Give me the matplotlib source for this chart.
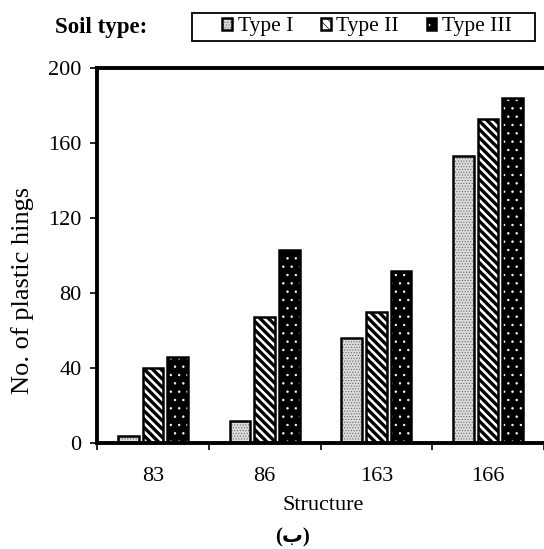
import matplotlib
matplotlib.use("Agg")
import matplotlib.pyplot as plt
import matplotlib.patches as mpatches
import numpy as np

structures = ["83", "86", "163", "166"]
series_names = ["Type I", "Type II", "Type III"]
type1 = [4, 12, 56, 153]
type2 = [40, 67, 70, 173]
type3 = [46, 103, 92, 184]
yticks = [0, 40, 80, 120, 160, 200]

plt.rcParams['font.family'] = ['Liberation Serif', 'DejaVu Sans']
plt.rcParams['font.size'] = 16

W, H = 544, 549
fig = plt.figure(figsize=(W / 100, H / 100), dpi=100)
ax = fig.add_axes([97 / W, 1 - 443 / H, (W - 97) / W, (443 - 68) / H])

x = np.arange(len(structures))
bw = 0.185
step = 0.22

styles = [
    dict(fc='#dcdcdc', hc='#666666', hatch='......', hlw=0.5),
    dict(fc='white', hc='black', hatch='\\\\\\\\', hlw=2.4),
    dict(fc='black', hc='white', hatch='..', hlw=0.5),
]
handles = []
for i, (vals, st) in enumerate(zip([type1, type2, type3], styles)):
    plt.rcParams['hatch.linewidth'] = st['hlw']
    b1 = ax.bar(x + (i - 1) * step, vals, bw, color=st['fc'], edgecolor=st['hc'],
                hatch=st['hatch'], linewidth=0, zorder=2)
    for p in b1:
        if hasattr(p, 'set_hatch_linewidth'):
            p.set_hatch_linewidth(st['hlw'])
    b2 = ax.bar(x + (i - 1) * step, vals, bw, facecolor='none', edgecolor='black',
                linewidth=1.8, zorder=3)
    handles.append((b1[0], b2[0]))

ax.set_xlim(-0.5, -0.5 + (W - 97) / 113.5)
ax.set_ylim(0, 200)
ax.set_yticks(yticks)
ax.set_yticklabels([str(v) for v in yticks])
ax.set_xticks(np.arange(-0.5, 4.0, 1.0))
ax.set_xticklabels([])
ax.set_xticks(x, minor=True)
ax.set_xticklabels(structures, minor=True)
ax.tick_params(axis='x', which='minor', length=0, pad=17)
ax.tick_params(axis='x', which='major', length=5, width=1.2, direction='out')
ax.tick_params(axis='y', length=5, width=1.2, direction='out', pad=6)

for s in ['left', 'bottom', 'top']:
    ax.spines[s].set_linewidth(2.8)
ax.spines['right'].set_visible(False)

fig.text(323 / W, 1 - 506 / H, "Structure", ha='center', va='center', fontsize=16)
fig.text(23 / W, 1 - 290 / H, "No. of plastic hings", ha='center', va='center',
         rotation=90, fontsize=19)
fig.text(292 / W, 1 - 537 / H, "(ب)", ha='center', va='center', fontsize=15,
         fontweight='bold')
fig.text(101 / W, 1 - 28 / H, "Soil type:", ha='center', va='center', fontsize=16.5,
         fontweight='bold')

# legend box frame
fig.patches.append(mpatches.Rectangle((192 / W, 1 - 41 / H), (535 - 192) / W, 28 / H,
                                      transform=fig.transFigure, facecolor='white',
                                      edgecolor='black', linewidth=1.3, zorder=1))
leg = fig.legend(handles, series_names, loc='center', bbox_to_anchor=(367 / W, 1 - 27 / H),
                 ncol=3, frameon=False,
                 handlelength=0.45, handleheight=0.45, handletextpad=0.25,
                 columnspacing=1.3, borderpad=0.1, borderaxespad=0, fontsize=15.5)
leg.set_zorder(5)

fig.savefig("out.png", dpi=100)
